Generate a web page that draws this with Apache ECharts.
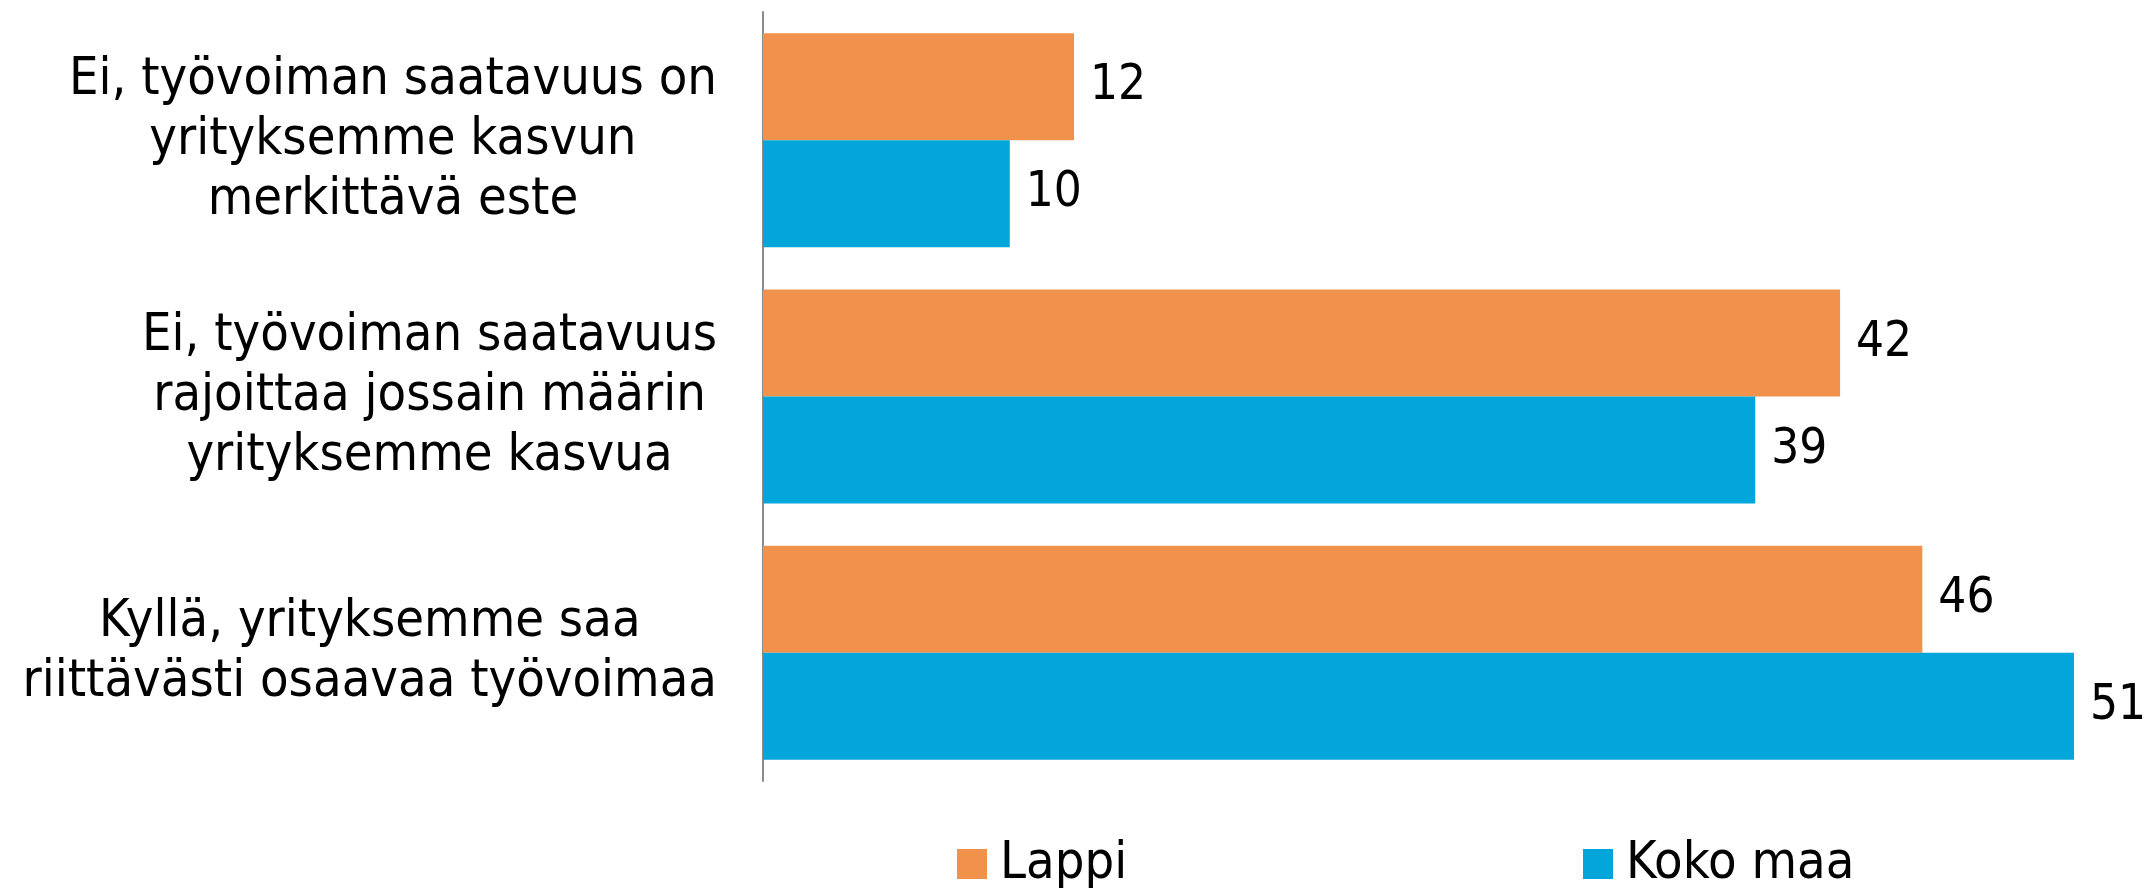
<!DOCTYPE html>
<html>
<head>
<meta charset="utf-8">
<script src="https://cdn.jsdelivr.net/npm/echarts@6/dist/echarts.min.js"></script>
<style>
html,body{margin:0;padding:0;background:#fff;}
#chart{width:2149px;height:888px;}
</style>
</head>
<body>
<div id="chart"></div>
<script>
const categories = [
  'Ei, työvoiman saatavuus on\nyrityksemme kasvun\nmerkittävä este',
  'Ei, työvoiman saatavuus\nrajoittaa jossain määrin\nyrityksemme kasvua',
  'Kyllä, yrityksemme saa\nriittävästi osaavaa työvoimaa'
];
const seriesNames = ['Lappi', 'Koko maa'];
// bar lengths
const lappiValues = [12.1, 41.9, 45.1];
const kokoMaaValues = [9.6, 38.6, 51.0];
// printed value labels
const lappiLabels = ['12', '42', '46'];
const kokoMaaLabels = ['10', '39', '51'];

const FONT = '"DejaVu Sans Condensed", "DejaVu Sans", sans-serif';
const chart = echarts.init(document.getElementById('chart'), null, {renderer: 'canvas'});
const legendBase = {itemWidth: 30, itemHeight: 30, icon: 'rect', padding: 0, top: 838,
  textStyle: {fontFamily: FONT, fontSize: 52, color: '#000', padding: [0, 0, 0, 8]}};
const labelBase = {show: true, position: 'right', distance: 16, fontFamily: FONT, fontSize: 49, color: '#000'};
const option = {
  animation: false,
  backgroundColor: '#ffffff',
  grid: {left: 763, right: 75, top: 12, bottom: 107, containLabel: false},
  legend: [
    Object.assign({data: [seriesNames[0]], left: 957}, legendBase),
    Object.assign({data: [seriesNames[1]], left: 1583}, legendBase)
  ],
  xAxis: {
    type: 'value', min: 0, max: 51,
    show: false
  },
  yAxis: {
    type: 'category', inverse: true, data: categories,
    axisLine: {show: true, lineStyle: {color: '#8c8c8c', width: 2}},
    axisTick: {show: false},
    axisLabel: {
      margin: 46,
      formatter: function (v) {
        return v.split('\n').map(function (l) { return '{c|' + l + '}'; }).join('\n');
      },
      rich: {c: {fontFamily: FONT, fontSize: 52, lineHeight: 60, color: '#000', align: 'center'}}
    }
  },
  series: [
    {
      name: seriesNames[0], type: 'bar', data: lappiValues,
      barGap: '0%', barCategoryGap: '16.5%',
      itemStyle: {color: '#F0924C'},
      label: Object.assign({formatter: function (p) { return lappiLabels[p.dataIndex]; }}, labelBase)
    },
    {
      name: seriesNames[1], type: 'bar', data: kokoMaaValues,
      barGap: '0%', barCategoryGap: '16.5%',
      itemStyle: {color: '#03A6DA'},
      label: Object.assign({formatter: function (p) { return kokoMaaLabels[p.dataIndex]; }}, labelBase)
    }
  ]
};
chart.setOption(option);
</script>
</body>
</html>
